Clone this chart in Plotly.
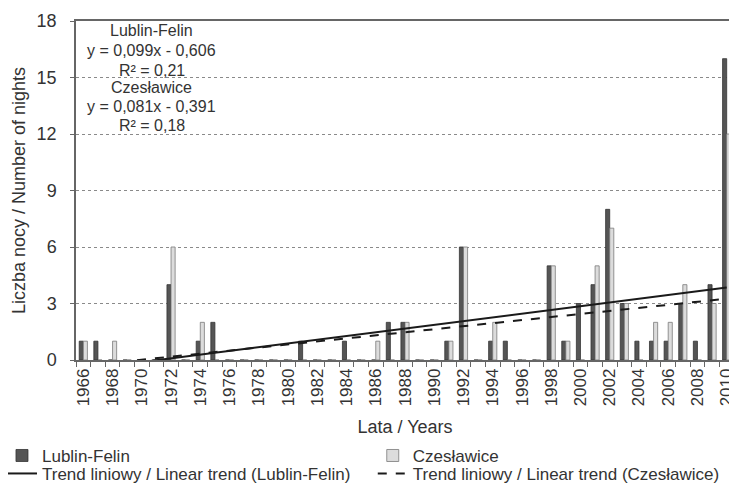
import plotly.graph_objects as go

years = list(range(1966, 2011))
lublin = [1, 1, 0, 0, 0, 0, 4, 0, 1, 2,
          0, 0, 0, 0, 0, 1, 0, 0, 1, 0,
          0, 2, 2, 0, 0, 1, 6, 0, 1, 1,
          0, 0, 5, 1, 3, 4, 8, 3, 1, 1,
          1, 3, 1, 4, 16]
czeslawice = [1, 0, 1, 0, 0, 0, 6, 0, 2, 0,
              0, 0, 0, 0, 0, 0, 0, 0, 0, 0,
              1, 0, 2, 0, 0, 1, 6, 0, 2, 0,
              0, 0, 5, 1, 0, 5, 7, 3, 0, 2,
              2, 4, 0, 3, 12]
year_ticks = [1966, 1968, 1970, 1972, 1974, 1976, 1978, 1980, 1982, 1984, 1986, 1988,
              1990, 1992, 1994, 1996, 1998, 2000, 2002, 2004, 2006, 2008, 2010]
y_ticks = [0, 3, 6, 9, 12, 15, 18]
trend_lublin = [0.099, -0.606]      # slope, intercept (x = 1..45)
trend_czes = [0.081, -0.391]
ann_lines = ["Lublin-Felin", "y = 0,099x - 0,606", "R² = 0,21",
             "Czesławice", "y = 0,081x - 0,391", "R² = 0,18"]
series_names = ["Lublin-Felin", "Czesławice",
                "Trend liniowy / Linear trend (Lublin-Felin)",
                "Trend liniowy / Linear trend (Czesławice)"]

FONT = "Liberation Sans, Arial, sans-serif"
TXT = "#333333"

idx = list(range(1, len(years) + 1))
tl = [trend_lublin[0] * i + trend_lublin[1] for i in idx]
tc = [trend_czes[0] * i + trend_czes[1] for i in idx]

fig = go.Figure()
fig.add_trace(go.Bar(x=years, y=lublin, name=series_names[0], legend="legend",
                     marker=dict(color="#555555", line=dict(color="#333333", width=0.8))))
fig.add_trace(go.Bar(x=years, y=czeslawice, name=series_names[1], legend="legend2",
                     marker=dict(color="#dcdcdc", line=dict(color="#7a7a7a", width=0.8))))
fig.add_trace(go.Scatter(x=years, y=tl, mode="lines", name=series_names[2], legend="legend3",
                         line=dict(color="#1a1a1a", width=2)))
fig.add_trace(go.Scatter(x=years, y=tc, mode="lines", name=series_names[3], legend="legend4",
                         line=dict(color="#1a1a1a", width=2, dash="dash")))

pix_y = [30.7, 50, 70, 87.7, 106.7, 125]
for t, py in zip(ann_lines, pix_y):
    fig.add_annotation(text=t, xref="paper", yref="paper", x=0.1155, y=1,
                       xanchor="center", yanchor="middle", yshift=-(py - 21),
                       showarrow=False, font=dict(family=FONT, size=16, color=TXT))

def leg(x, y):
    return dict(x=x, y=y, xanchor="left", yanchor="middle", orientation="h",
                font=dict(family=FONT, size=17, color=TXT),
                bgcolor="rgba(0,0,0,0)", borderwidth=0)

# page body has an 8px default margin, so the figure is sized 8px smaller
fig.update_layout(
    width=729, height=476,
    margin=dict(l=68, r=3, t=13, b=124, autoexpand=False),
    paper_bgcolor="white", plot_bgcolor="white",
    barmode="group", bargap=0.44, bargroupgap=0,
    font=dict(family=FONT, size=17, color=TXT),
    showlegend=True,
    legend=leg(-0.1125, -0.283),
    legend2=leg(0.451, -0.283),
    legend3=leg(-0.1125, -0.336),
    legend4=leg(0.451, -0.336),
)
fig.update_xaxes(
    range=[1965.5, 2010.5], tickmode="array", tickvals=year_ticks,
    ticktext=[str(v) for v in year_ticks], tickangle=-90, ticks="",
    ticklabeloverflow="allow",
    minor=dict(ticks="outside", tick0=1965.5, dtick=1, ticklen=5, tickcolor="#666666"),
    showline=True, linecolor="#666666", linewidth=1.5, mirror=True,
    showgrid=False, zeroline=False, automargin=False,
    tickfont=dict(family=FONT, size=17, color=TXT),
    title=dict(text="Lata / Years", font=dict(family=FONT, size=18, color=TXT)),
)
fig.update_yaxes(
    range=[0, 18], tickmode="array", tickvals=y_ticks,
    ticks="outside", ticklen=4, tickcolor="#666666", ticklabelstandoff=10,
    showline=True, linecolor="#666666", linewidth=1.5,
    showgrid=True, gridcolor="#8a8a8a", griddash="dot", gridwidth=1,
    zeroline=False, automargin=True,
    tickfont=dict(family=FONT, size=18, color=TXT),
    title=dict(text="Liczba nocy / Number of nights", standoff=6,
               font=dict(family=FONT, size=18, color=TXT)),
)

fig.write_html("out.html")
